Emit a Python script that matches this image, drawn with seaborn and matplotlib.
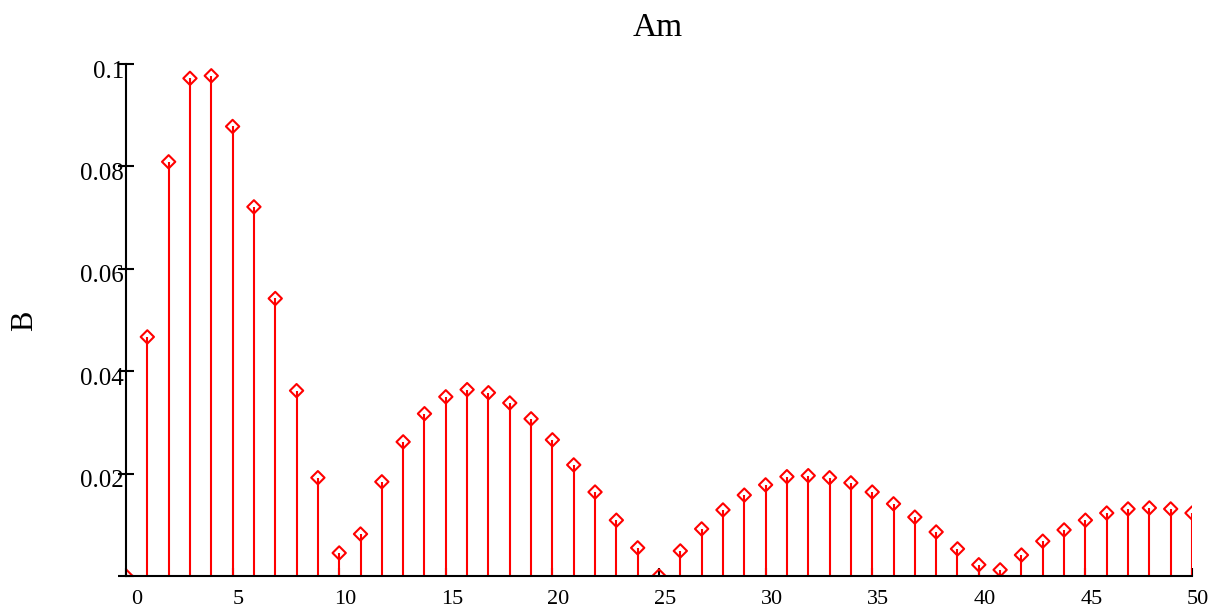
import matplotlib
matplotlib.use("Agg")
import matplotlib.pyplot as plt
import matplotlib.transforms as mtrans
import numpy as np
import pandas as pd
import seaborn as sns

# ---- data ----
m_vals = list(range(51))
B_vals = [0.0000, 0.0467, 0.0809, 0.0972, 0.0977, 0.0878, 0.0721, 0.0542, 0.0362, 0.0192,
          0.0045, 0.0082, 0.0184, 0.0262, 0.0317, 0.0350, 0.0364, 0.0358, 0.0338, 0.0307,
          0.0266, 0.0217, 0.0164, 0.0109, 0.0055, 0.0000, 0.0049, 0.0092, 0.0129, 0.0158,
          0.0178, 0.0194, 0.0196, 0.0192, 0.0182, 0.0164, 0.0141, 0.0115, 0.0086, 0.0053,
          0.0022, 0.0012, 0.0041, 0.0068, 0.0090, 0.0109, 0.0123, 0.0131, 0.0133, 0.0131,
          0.0123]
x_ticks = list(range(0, 51, 5))
x_ticklabels = [str(v) for v in x_ticks]
y_ticks = [0.0, 0.02, 0.04, 0.06, 0.08, 0.1]
y_ticklabels = ["", "0.02", "0.04", "0.06", "0.08", "0.1"]
title_text = "Am"
ylabel_text = "B"

sns.set_theme(style="white")
plt.rcParams['font.family'] = ['Liberation Serif', 'DejaVu Serif']
plt.rcParams['text.color'] = 'black'

fig = plt.figure(figsize=(12.14, 6.09), dpi=100)
W, H = 1214, 609
ax = fig.add_axes([126 / W, 33 / H, 1066 / W, 512 / H])

df = pd.DataFrame({"m": m_vals, "B": B_vals})
red = "#ff0000"
ax.vlines(df["m"], 0, df["B"], color=red, lw=1.5, zorder=2)
sns.scatterplot(data=df, x="m", y="B", marker="D", s=46, color=red, linewidth=1.5,
                ax=ax, zorder=3, legend=False)
coll = ax.collections[-1]
coll.set_facecolor("none")
coll.set_edgecolor(red)

ax.set_xlim(0, 50)
ax.set_ylim(0, 0.1)
ax.set_xticks(x_ticks)
ax.set_xticklabels(x_ticklabels)
ax.set_yticks(y_ticks)
ax.set_yticklabels(y_ticklabels)
ax.set_xlabel("")
ax.set_ylabel("")

for s in ["top", "right"]:
    ax.spines[s].set_visible(False)
for s in ["left", "bottom"]:
    ax.spines[s].set_color("black")
    ax.spines[s].set_linewidth(1.5)
    ax.spines[s].set_zorder(4)

ax.tick_params(axis="x", direction="in", length=5.5, width=1.5, color="black",
               labelsize=16, labelcolor="black", pad=10, bottom=True)
ax.tick_params(axis="y", direction="inout", length=11, width=1.5, color="black",
               labelsize=18, labelcolor="black", pad=-4, left=True)

for i, lab in enumerate(ax.get_xticklabels()):
    dx = 11 if i == 0 else 6
    lab.set_transform(lab.get_transform() + mtrans.ScaledTranslation(dx / 100, 0, fig.dpi_scale_trans))
for lab in ax.get_yticklabels():
    lab.set_transform(lab.get_transform() + mtrans.ScaledTranslation(0, -5 / 100, fig.dpi_scale_trans))

fig.text(658 / W, 1 - 28 / H, title_text, fontsize=24, ha="center", va="center", color="black")
fig.text(25 / W, 1 - 321 / H, ylabel_text, fontsize=22, rotation=90, ha="center", va="center", color="black")

fig.savefig("out.png", dpi=100)
